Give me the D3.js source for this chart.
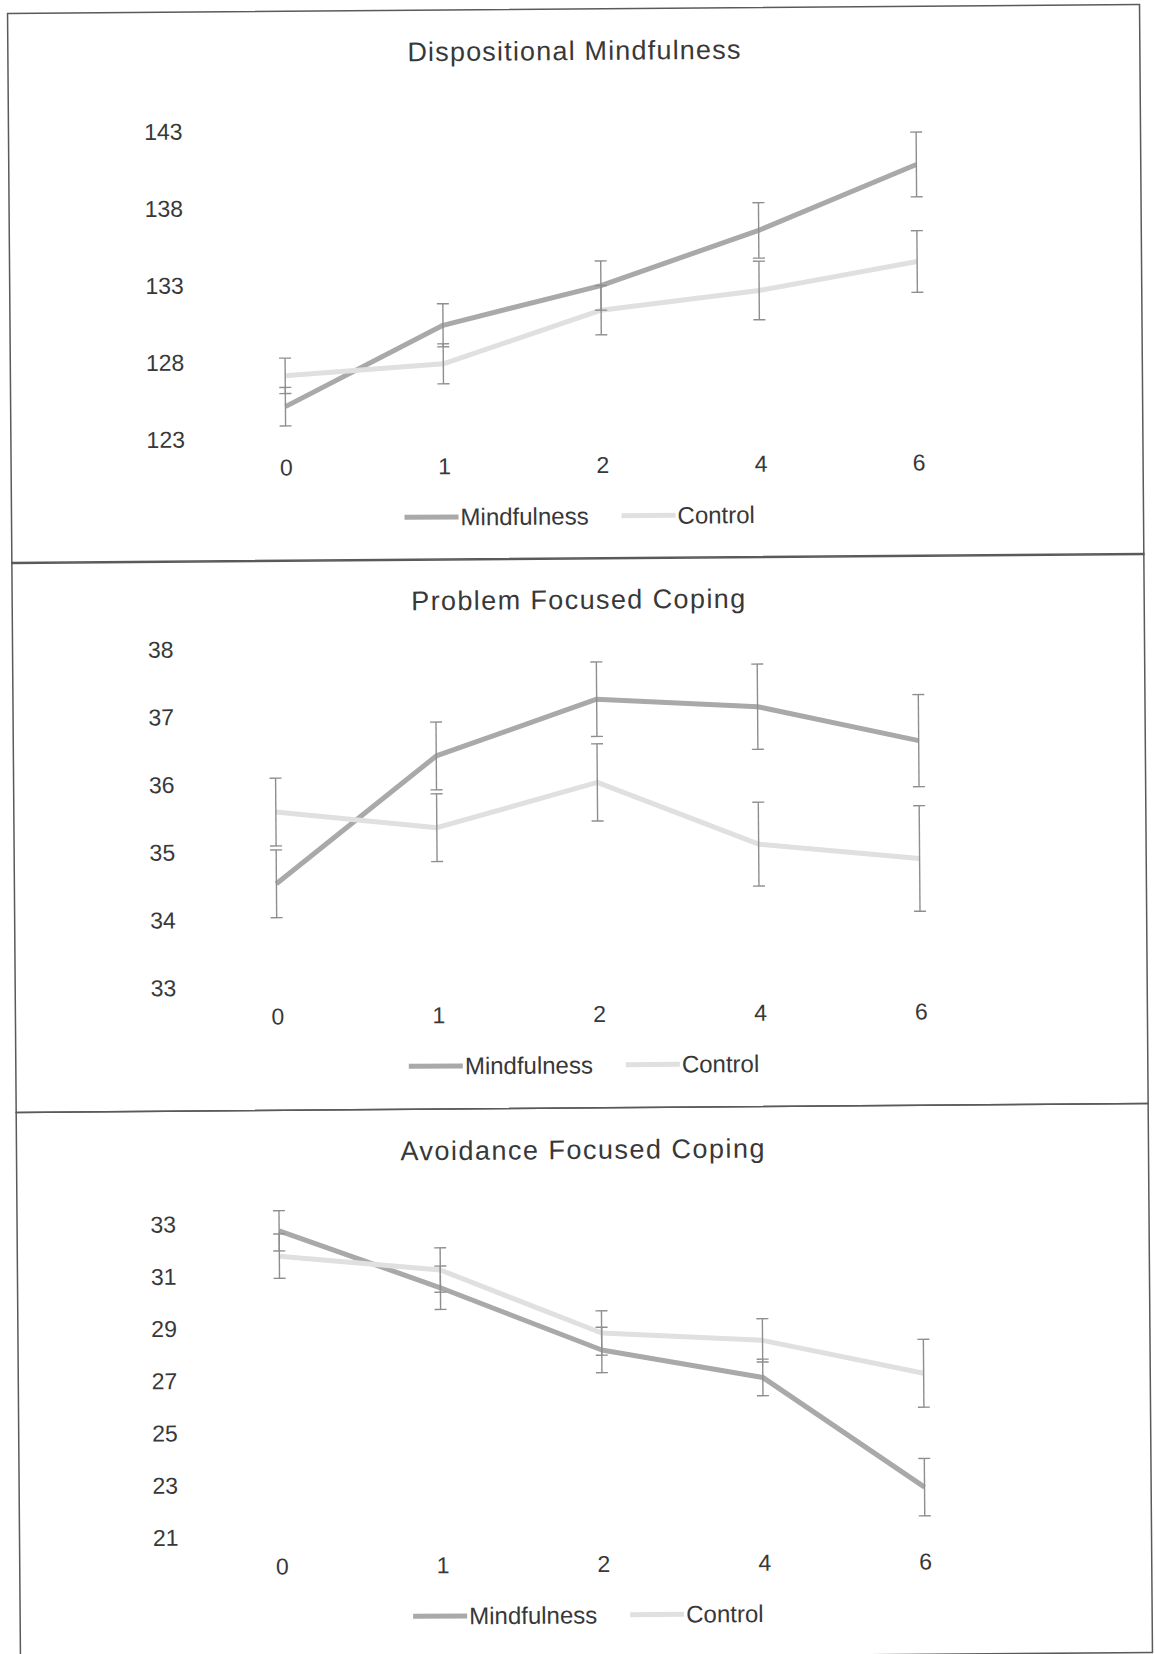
<!DOCTYPE html>
<html>
<head>
<meta charset="utf-8">
<script src="https://cdn.jsdelivr.net/npm/d3@7"></script>
<style>
  body { margin: 0; background: #fff; }
  text { font-family: "Liberation Sans", Arial, sans-serif; fill: #383838; }
</style>
</head>
<body>
<svg id="page" width="1155" height="1654"></svg>
<script>
// months after baseline
var weeks = ["0", "1", "2", "4", "6"];
var seriesNames = ["Mindfulness", "Control"];
var titles = ["Dispositional Mindfulness", "Problem Focused Coping", "Avoidance Focused Coping"];

// Dispositional Mindfulness
var dmMind = [125.1, 130.3, 132.8, 136.3, 140.5];
var dmMindErr = [1.25, 1.4, 1.6, 1.8, 2.1];
var dmCtrl = [127.1, 127.8, 131.2, 132.4, 134.2];
var dmCtrlErr = [1.15, 1.3, 1.6, 1.9, 2.0];
var dmTicks = [123, 128, 133, 138, 143];

// Problem Focused Coping
var pfcMind = [34.53, 36.4, 37.22, 37.09, 36.57];
var pfcMindErr = [0.5, 0.5, 0.55, 0.63, 0.68];
var pfcCtrl = [35.59, 35.34, 35.99, 35.06, 34.83];
var pfcCtrlErr = [0.5, 0.5, 0.57, 0.62, 0.78];
var pfcTicks = [33, 34, 35, 36, 37, 38];

// Avoidance Focused Coping
var afcMind = [32.73, 30.5, 28.07, 26.97, 22.72];
var afcMindErr = [0.77, 0.83, 0.87, 0.7, 1.1];
var afcCtrl = [31.76, 31.18, 28.72, 28.39, 27.08];
var afcCtrlErr = [0.85, 0.85, 0.85, 0.83, 1.3];
var afcTicks = [21, 23, 25, 27, 29, 31, 33];

var panels = [
  { title: titles[0], mind: dmMind, mindErr: dmMindErr, ctrl: dmCtrl, ctrlErr: dmCtrlErr, ticks: dmTicks,
    top: 9, yRange: [427.7, 119.6], xRange: [209.7, 1000.7], labelX: 188, titleLen: 333 },
  { title: titles[1], mind: pfcMind, mindErr: pfcMindErr, ctrl: pfcCtrl, ctrlErr: pfcCtrlErr, ticks: pfcTicks,
    top: 558, yRange: [427, 88.5], xRange: [195.6, 999.8], labelX: 175, titleLen: 334 },
  { title: titles[2], mind: afcMind, mindErr: afcMindErr, ctrl: afcCtrl, ctrlErr: afcCtrlErr, ticks: afcTicks,
    top: 1108, yRange: [426.7, 113.4], xRange: [195.6, 999.8], labelX: 173, titleLen: 364 }
];

var colors = { Mindfulness: "#a9a9a9", Control: "#e0e0e0" };

var svg = d3.select("#page");
svg.append("rect").attr("width", 1155).attr("height", 1654).attr("fill", "#fff");

// the scanned page sits slightly tilted
var pageG = svg.append("g").attr("transform", "rotate(-0.45, 580, 833)");

panels.forEach(function (p, idx) {
  var h = idx === 2 ? 549 : 550;
  var g = pageG.append("g").attr("transform", "translate(0," + p.top + ")");

  g.append("rect")
    .attr("x", 14).attr("y", 0)
    .attr("width", 1132).attr("height", h)
    .attr("fill", "none")
    .attr("stroke", "#5a5a5a")
    .attr("stroke-width", 1.5);

  g.append("text")
    .attr("x", 580).attr("y", 41.5)
    .attr("dy", "0.35em")
    .attr("text-anchor", "middle")
    .style("font-size", "27px")
    .attr("textLength", p.titleLen)
    .attr("lengthAdjust", "spacing")
    .text(p.title);

  var x = d3.scalePoint().domain(weeks).range(p.xRange).padding(0.5);
  var y = d3.scaleLinear().domain([p.ticks[0], p.ticks[p.ticks.length - 1]]).range(p.yRange);

  var yAxis = g.append("g")
    .attr("transform", "translate(" + p.labelX + ",0)")
    .call(d3.axisLeft(y).tickValues(p.ticks).tickFormat(d3.format("d")).tickSize(0).tickPadding(0));
  yAxis.select(".domain").remove();
  yAxis.selectAll("text").style("font-size", "23px").attr("fill", "#383838");

  var xAxis = g.append("g")
    .attr("transform", "translate(0,456)")
    .call(d3.axisBottom(x).tickSize(0).tickPadding(0));
  xAxis.select(".domain").remove();
  xAxis.selectAll("text").style("font-size", "23px").attr("fill", "#383838")
    .attr("y", 0).attr("dy", "0.35em");

  var series = [
    { name: seriesNames[0], vals: p.mind, errs: p.mindErr },
    { name: seriesNames[1], vals: p.ctrl, errs: p.ctrlErr }
  ];

  var line = d3.line()
    .x(function (d, i) { return x(weeks[i]); })
    .y(function (d) { return y(d); });

  series.forEach(function (s) {
    g.append("path")
      .datum(s.vals)
      .attr("fill", "none")
      .attr("stroke", colors[s.name])
      .attr("stroke-width", 5)
      .attr("stroke-linejoin", "round")
      .attr("d", line);
  });

  series.forEach(function (s) {
    var eb = g.append("g").attr("stroke", "#8e8e8e").attr("stroke-width", 1.4);
    s.vals.forEach(function (v, i) {
      var cx = x(weeks[i]);
      var lo = y(v - s.errs[i]), hi = y(v + s.errs[i]);
      eb.append("line").attr("x1", cx).attr("x2", cx).attr("y1", lo).attr("y2", hi);
      eb.append("line").attr("x1", cx - 6).attr("x2", cx + 6).attr("y1", lo).attr("y2", lo);
      eb.append("line").attr("x1", cx - 6).attr("x2", cx + 6).attr("y1", hi).attr("y2", hi);
    });
  });

  // legend
  var legendX = [407, 624];
  series.forEach(function (s, i) {
    var lg = g.append("g").attr("transform", "translate(" + legendX[i] + ",507)");
    lg.append("line")
      .attr("x1", 0).attr("x2", 54)
      .attr("stroke", colors[s.name])
      .attr("stroke-width", 5);
    lg.append("text")
      .attr("x", 56).attr("dy", "0.35em")
      .style("font-size", "24px")
      .text(s.name);
  });
});
</script>
</body>
</html>
